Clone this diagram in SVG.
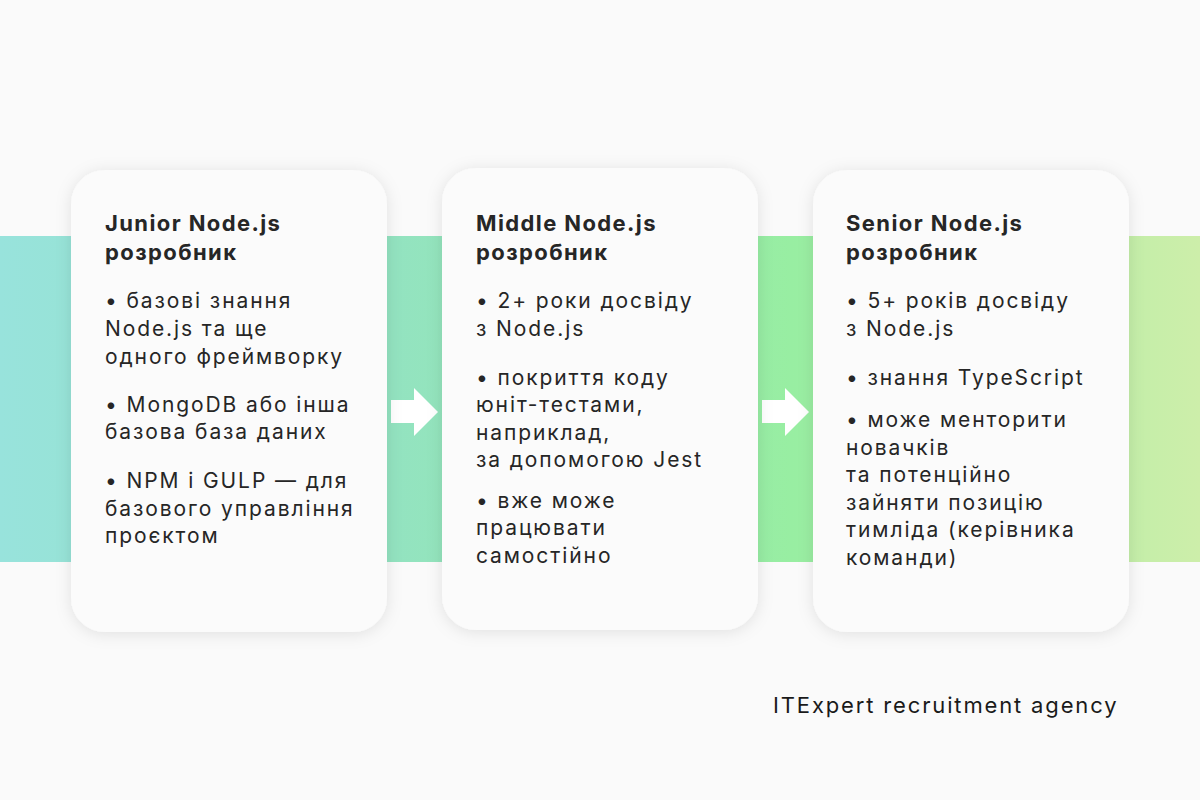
<svg xmlns="http://www.w3.org/2000/svg" width="1200" height="800" viewBox="0 0 1200 800">
<defs>
<linearGradient id="band" x1="0" y1="0" x2="1200" y2="0" gradientUnits="userSpaceOnUse">
<stop offset="0" stop-color="#98e3dc"/>
<stop offset="0.33" stop-color="#93e3c0"/>
<stop offset="0.66" stop-color="#98eea2"/>
<stop offset="1" stop-color="#cdeeaa"/>
</linearGradient>
<filter id="sh" x="-20%" y="-20%" width="140%" height="140%">
<feDropShadow dx="0" dy="2" stdDeviation="8" flood-color="#000" flood-opacity="0.10"/>
</filter>
<style>
.card{fill:#fbfbfb;filter:url(#sh)}
.t{font-family:Inter,"Liberation Sans",sans-serif;fill:#262626}
.h{font-size:22px;font-weight:700;letter-spacing:1.4px}
.b{font-size:21px;letter-spacing:1.9px}
.f{font-size:22px;letter-spacing:1.85px;fill:#1a1a1a}
.arrow{fill:#ffffff}
</style>
</defs>
<rect width="1200" height="800" fill="#fafafa"/>
<rect x="0" y="236" width="1200" height="326" fill="url(#band)"/>
<g id="connectors">
<polygon class="arrow" points="391,400 414,400 414,388 438,412 414,436 414,423 391,423"/>
<polygon class="arrow" points="762,400 785,400 785,388 809,412 785,436 785,423 762,423"/>
</g>
<g id="junior">
<rect class="card" x="71" y="170" width="316" height="462" rx="34"/>
<text class="t h" x="105" y="231">Junior Node.js</text>
<text class="t h" x="105" y="260">розробник</text>
<text class="t b" x="105" y="308">• базові знання</text>
<text class="t b" x="105" y="336">Node.js та ще</text>
<text class="t b" x="105" y="364">одного фреймворку</text>
<text class="t b" x="105" y="412">• MongoDB або інша</text>
<text class="t b" x="105" y="439">базова база даних</text>
<text class="t b" x="105" y="488">• NPM і GULP — для</text>
<text class="t b" x="105" y="516">базового управління</text>
<text class="t b" x="105" y="543">проєктом</text>
</g>
<g id="middle">
<rect class="card" x="442" y="168" width="316" height="462" rx="34"/>
<text class="t h" x="476" y="231">Middle Node.js</text>
<text class="t h" x="476" y="260">розробник</text>
<text class="t b" x="476" y="308">• 2+ роки досвіду</text>
<text class="t b" x="476" y="336">з Node.js</text>
<text class="t b" x="476" y="385">• покриття коду</text>
<text class="t b" x="476" y="412">юніт-тестами,</text>
<text class="t b" x="476" y="440">наприклад,</text>
<text class="t b" x="476" y="467">за допомогою Jest</text>
<text class="t b" x="476" y="508">• вже може</text>
<text class="t b" x="476" y="535">працювати</text>
<text class="t b" x="476" y="563">самостійно</text>
</g>
<g id="senior">
<rect class="card" x="813" y="170" width="316" height="462" rx="34"/>
<text class="t h" x="846" y="231">Senior Node.js</text>
<text class="t h" x="846" y="260">розробник</text>
<text class="t b" x="846" y="308">• 5+ років досвіду</text>
<text class="t b" x="846" y="336">з Node.js</text>
<text class="t b" x="846" y="385">• знання TypeScript</text>
<text class="t b" x="846" y="427">• може менторити</text>
<text class="t b" x="846" y="455">новачків</text>
<text class="t b" x="846" y="482">та потенційно</text>
<text class="t b" x="846" y="510">зайняти позицію</text>
<text class="t b" x="846" y="537">тимліда (керівника</text>
<text class="t b" x="846" y="565">команди)</text>
</g>
<text class="t f" x="773" y="713">ITExpert recruitment agency</text>
</svg>
